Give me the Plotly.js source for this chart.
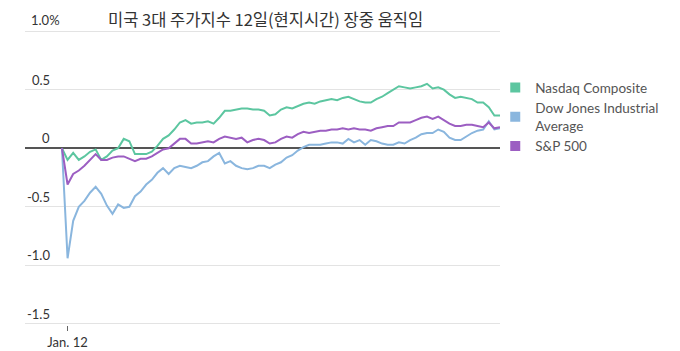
<!DOCTYPE html>
<html>
<head>
<meta charset="utf-8">
<script src="https://cdn.plot.ly/plotly-3.0.1.min.js"></script>
<style>html,body{margin:0;padding:0;background:#fff}#chart{width:680px;height:351px}</style>
</head>
<body>
<div id="chart"></div>
<script>
// minutes after the open, 5-minute steps (09:30 .. 16:00)
const minutes = [];
for (let m = 0; m <= 390; m += 5) minutes.push(m);

const nasdaq = [0,-0.10,-0.04,-0.10,-0.07,-0.03,-0.01,-0.10,-0.07,-0.02,
  0.00,0.08,0.06,-0.05,-0.05,-0.05,-0.03,0.02,0.08,0.11,
  0.16,0.22,0.24,0.21,0.22,0.22,0.23,0.21,0.26,0.32,
  0.32,0.33,0.34,0.34,0.33,0.33,0.32,0.28,0.29,0.33,
  0.35,0.34,0.36,0.38,0.39,0.38,0.40,0.41,0.42,0.41,
  0.43,0.44,0.42,0.40,0.39,0.39,0.42,0.44,0.47,0.50,
  0.53,0.52,0.51,0.52,0.53,0.55,0.51,0.52,0.50,0.46,
  0.43,0.44,0.43,0.42,0.39,0.39,0.35,0.28,0.28];

const dow = [0,-0.94,-0.62,-0.50,-0.45,-0.38,-0.33,-0.39,-0.49,-0.56,
  -0.48,-0.51,-0.50,-0.41,-0.37,-0.31,-0.27,-0.21,-0.17,-0.22,
  -0.17,-0.15,-0.16,-0.17,-0.15,-0.12,-0.11,-0.07,-0.04,-0.13,
  -0.11,-0.15,-0.17,-0.18,-0.17,-0.15,-0.15,-0.17,-0.14,-0.12,
  -0.08,-0.06,-0.02,0.01,0.03,0.03,0.03,0.04,0.05,0.05,
  0.04,0.08,0.05,0.07,0.03,0.07,0.06,0.04,0.03,0.03,
  0.05,0.04,0.07,0.09,0.12,0.13,0.13,0.16,0.14,0.09,
  0.07,0.07,0.10,0.13,0.15,0.16,0.23,0.16,0.17];

const sp500 = [0,-0.31,-0.22,-0.19,-0.15,-0.10,-0.05,-0.10,-0.10,-0.08,
  -0.07,-0.07,-0.09,-0.11,-0.09,-0.09,-0.07,-0.04,-0.01,0.00,
  0.04,0.08,0.08,0.04,0.04,0.05,0.06,0.05,0.08,0.10,
  0.09,0.08,0.09,0.05,0.07,0.08,0.07,0.04,0.05,0.08,
  0.10,0.09,0.12,0.14,0.13,0.14,0.15,0.15,0.16,0.16,
  0.17,0.16,0.17,0.16,0.16,0.15,0.17,0.18,0.19,0.19,
  0.22,0.22,0.22,0.24,0.26,0.27,0.25,0.27,0.24,0.21,
  0.19,0.19,0.20,0.20,0.19,0.18,0.22,0.17,0.18];

const seriesNames = ['Nasdaq Composite', 'Dow Jones Industrial<br>Average', 'S&P 500'];
const seriesColors = ['#5cc6a0', '#8ab6de', '#9c5ec2'];
const seriesData = [nasdaq, dow, sp500];

const yTickVals = [1.0, 0.5, 0, -0.5, -1.0, -1.5];
const yTickText = ['1.0%', '0.5', '0', '-0.5', '-1.0', '-1.5'];
const xTickVals = [5];
const xTickText = ['Jan. 12'];

const traces = [];
seriesData.forEach((d, k) => {
  traces.push({x: minutes, y: d, type: 'scatter', mode: 'lines',
    line: {color: seriesColors[k], width: 2}, showlegend: false, hoverinfo: 'skip'});
});
seriesData.forEach((d, k) => {
  traces.push({x: [null], y: [null], type: 'scatter', mode: 'markers', name: seriesNames[k],
    marker: {symbol: 'square', size: 10, color: seriesColors[k]}, showlegend: true});
});

const annotations = yTickVals.map((v, k) => ({
  xref: 'paper', yref: 'y', x: k === 0 ? (62 - 25) / 475 : (52 - 25) / 475, y: v,
  xanchor: 'right', yanchor: 'middle', yshift: k === 0 ? 11 : 10,
  text: yTickText[k], showarrow: false,
  font: {family: 'Lato, sans-serif', size: 13, color: '#333'}
}));

const layout = {
  width: 680, height: 351,
  margin: {l: 25, r: 180, t: 30, b: 26},
  paper_bgcolor: '#fff', plot_bgcolor: '#fff',
  title: {text: '미국 3대 주가지수 12일(현지시간) 장중 움직임',
    font: {family: '"Noto Sans CJK KR", sans-serif', size: 16.5, color: '#333'},
    x: 108 / 680, xanchor: 'left', xref: 'container',
    y: 1 - 20 / 351, yanchor: 'middle', yref: 'container'},
  xaxis: {range: [-32.9, 390], showgrid: false, zeroline: false, showline: false,
    tickvals: xTickVals, ticktext: xTickText, ticks: 'outside', ticklen: 5,
    tickcolor: '#666', tickwidth: 1,
    tickfont: {family: 'Lato, sans-serif', size: 13, color: '#333'}},
  yaxis: {range: [-1.51, 1.01], tickvals: yTickVals, showticklabels: false,
    showgrid: true, gridcolor: '#e3e3e3', gridwidth: 1,
    zeroline: true, zerolinecolor: '#555', zerolinewidth: 2, showline: false, ticks: ''},
  legend: {x: 0.99, y: 0.857, xanchor: 'left', yanchor: 'top',
    font: {family: 'Lato, sans-serif', size: 13.5, color: '#555'}, bgcolor: 'rgba(0,0,0,0)'},
  annotations: annotations,
  showlegend: true
};

Plotly.newPlot('chart', traces, layout, {staticPlot: true, displayModeBar: false});
</script>
</body>
</html>
